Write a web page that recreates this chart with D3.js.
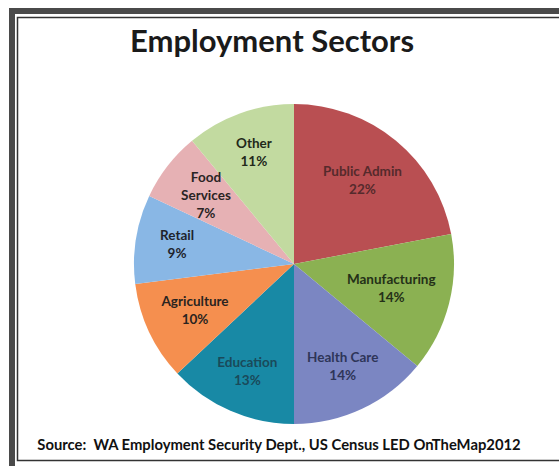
<!DOCTYPE html>
<html><head><meta charset="utf-8">
<script src="https://cdn.jsdelivr.net/npm/d3@7"></script>
<style>html,body{margin:0;padding:0;background:#fff;overflow:hidden}</style>
</head><body>
<svg id="chart" width="559" height="466"></svg>
<script>
const categories = ["Public Admin","Manufacturing","Health Care","Education","Agriculture","Retail","Food Services","Other"];
const labelLines = [["Public Admin"],["Manufacturing"],["Health Care"],["Education"],["Agriculture"],["Retail"],["Food","Services"],["Other"]];
const values = [22,14,14,13,10,9,7,11];
const colors = ["#b94f52","#8bb152","#7b86c2","#1889a5","#f58f4f","#89b7e5","#e6b1b4","#c2daa0"];
const textColors = ["#552a2c","#243018","#2e3558","#1a4a5a","#2a2420","#1e242c","#2a2424","#22291a"];
const title = "Employment Sectors";
const source = "Source:  WA Employment Security Dept., US Census LED OnTheMap2012";

const svg = d3.select("#chart");
const W = 559, H = 466;

// frame
svg.append("rect").attr("x",12).attr("y",11).attr("width",W+20).attr("height",H+20)
  .attr("fill","none").attr("stroke","#4a4a4a").attr("stroke-width",6);
svg.append("rect").attr("x",17.5).attr("y",17.5).attr("width",W+20).attr("height",443)
  .attr("fill","none").attr("stroke","#333").attr("stroke-width",1.5);

svg.append("text").attr("x",272).attr("y",52).attr("text-anchor","middle")
  .attr("font-family","Lato, 'Open Sans', sans-serif").attr("font-weight","bold")
  .attr("font-size",31).attr("fill","#1a1a1a").text(title);

svg.append("text").attr("x",279).attr("y",450).attr("text-anchor","middle")
  .attr("xml:space","preserve").style("white-space","pre")
  .attr("font-family","Lato, 'Open Sans', sans-serif").attr("font-weight","bold")
  .attr("font-size",14.8).attr("fill","#111").text(source);

const cx = 294, cy = 264, R = 160;
const g = svg.append("g").attr("transform",`translate(${cx},${cy})`);
const data = categories.map((c,i)=>({name:c, value:values[i], i}));
const pie = d3.pie().value(d=>d.value).sort(null);
const arcs = pie(data);
const arc = d3.arc().innerRadius(0).outerRadius(R);
g.selectAll("path").data(arcs).join("path")
  .attr("d",arc).attr("fill",d=>colors[d.data.i]);

const fs = 13.5, lh = 18, pad = 12;
arcs.forEach(d=>{
  const lines = labelLines[d.data.i].concat([d.data.value+"%"]);
  const t = g.append("text").attr("text-anchor","middle")
    .attr("font-family","Lato, 'Open Sans', sans-serif").attr("font-weight","bold")
    .attr("font-size",fs).attr("fill",textColors[d.data.i]);
  lines.forEach((l,k)=>t.append("tspan").attr("x",0).attr("dy",k?lh:0).text(l));
  const bb = t.node().getBBox();
  const hw = bb.width/2, hh = lines.length*lh/2;
  const a = (d.startAngle+d.endAngle)/2;
  const sx = Math.sin(a), sy = -Math.cos(a);
  let r = 0.74*R;
  const fits = r => {
    const x = r*sx, y = r*sy;
    return Math.hypot(x + Math.sign(sx)*hw, y + Math.sign(sy)*hh) <= R - pad;
  };
  while (r > 40 && !fits(r)) r -= 1;
  const x = r*sx, y = r*sy;
  t.attr("transform",`translate(${x},${y - hh + lh*0.72})`);
});
</script>
</body></html>
